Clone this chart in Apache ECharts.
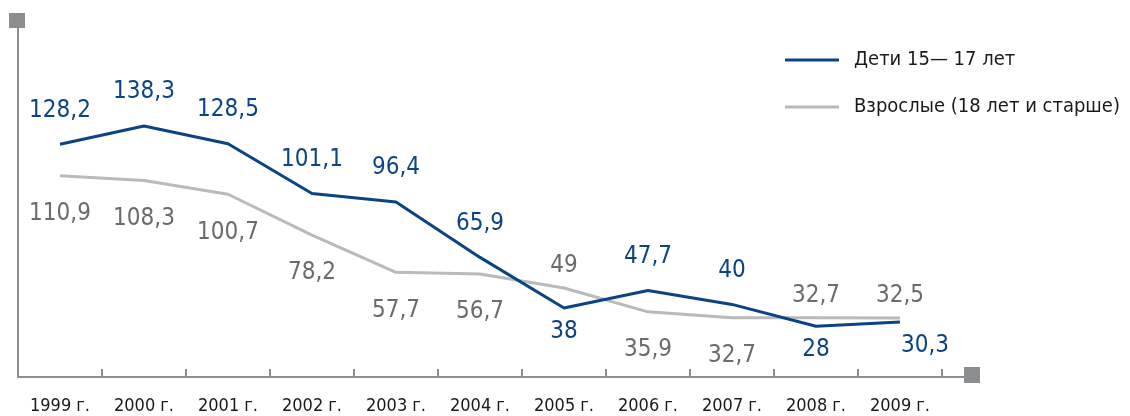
<!DOCTYPE html>
<html>
<head>
<meta charset="utf-8">
<script src="https://cdn.jsdelivr.net/npm/echarts@6/dist/echarts.min.js"></script>
<style>
html,body{margin:0;padding:0;background:#fff;}
#chart{width:1130px;height:416px;}
</style>
</head>
<body>
<div id="chart"></div>
<script>
// годы
var years=['1999 г.','2000 г.','2001 г.','2002 г.','2003 г.','2004 г.','2005 г.','2006 г.','2007 г.','2008 г.','2009 г.'];
var kids=[128.2,138.3,128.5,101.1,96.4,65.9,38,47.7,40,28,30.3];//Дети 15—17 лет
var adults=[110.9,108.3,100.7,78.2,57.7,56.7,49,35.9,32.7,32.7,32.5];//Взрослые
// где стоят подписи (стиль)
var kidsPos=['top','top','top','top','top','top','bottom','top','top','bottom','bottom'];
var adultsPos=['bottom','bottom','bottom','bottom','bottom','bottom','top','bottom','bottom','top','top'];

var FONT="'DejaVu Sans Condensed','Liberation Sans Narrow',sans-serif";
var BLUE='#0c4384';
var GREY_LINE='#b9babc';
var GREY_TXT='#6a6b6d';
var AXIS='#8b8d8f';

function fmt(v){return String(v).replace('.',',');}
// dTop / dBottom - отступ подписи сверху / снизу
function build(vals,pos,dTop,dBottom){
    var out=[];
    for(var i=0;i<vals.length;i++){
        var lb={position:pos[i],distance:pos[i]=='top'?dTop:dBottom};
        if(i==vals.length-1&&pos[i]=='bottom'){lb.offset=[25,0];}
        out.push({value:vals[i],label:lb});
    }
    return out;
}

var mychart=echarts.init(document.getElementById('chart'));
var option={
    animation:false,
    textStyle:{fontFamily:FONT},
    grid:{left:18,top:14,width:924,bottom:39},
    legend:{
        orient:'vertical',
        left:780,
        top:45,
        itemWidth:54,
        itemHeight:3,
        itemGap:27,
        icon:'rect',
        textStyle:{fontFamily:FONT,fontSize:20,color:'#1a1a1a',padding:[0,0,0,10],lineHeight:20},
        data:['Дети 15— 17 лет','Взрослые (18 лет и старше)']
    },
    xAxis:{
        type:'category',
        data:years,
        boundaryGap:true,
        axisLine:{lineStyle:{color:AXIS,width:2}},
        axisTick:{show:true,inside:true,interval:0,length:8,lineStyle:{color:AXIS,width:2}},
        axisLabel:{interval:0,fontFamily:FONT,fontSize:18,color:'#1a1a1a',margin:20}
    },
    yAxis:{
        type:'value',
        min:0,max:200,
        splitLine:{show:false},
        axisLine:{show:true,lineStyle:{color:AXIS,width:2}},
        axisTick:{show:false},
        axisLabel:{show:false}
    },
    graphic:[
        {type:'rect',shape:{x:9,y:13,width:16,height:15},style:{fill:AXIS},z:10},
        {type:'line',shape:{x1:942,y1:377,x2:966,y2:377},style:{stroke:AXIS,lineWidth:2}},
        {type:'rect',shape:{x:964,y:367,width:16,height:16},style:{fill:AXIS},z:10}
    ],
    series:[
        {
            name:'Взрослые (18 лет и старше)',
            type:'line',
            data:build(adults,adultsPos,10,26),
            symbol:'circle',symbolSize:0.1,
            itemStyle:{color:GREY_LINE},
            lineStyle:{color:GREY_LINE,width:3},
            label:{show:true,fontFamily:FONT,fontSize:24,color:GREY_TXT,
                formatter:function(p){return fmt(p.value);}}
        },
        {
            name:'Дети 15— 17 лет',
            type:'line',
            data:build(kids,kidsPos,22,12),
            symbol:'circle',symbolSize:0.1,
            itemStyle:{color:BLUE},
            lineStyle:{color:BLUE,width:3},
            label:{show:true,fontFamily:FONT,fontSize:24,color:BLUE,
                formatter:function(p){return fmt(p.value);}}
        }
    ]
};
mychart.setOption(option);
</script>
</body>
</html>
